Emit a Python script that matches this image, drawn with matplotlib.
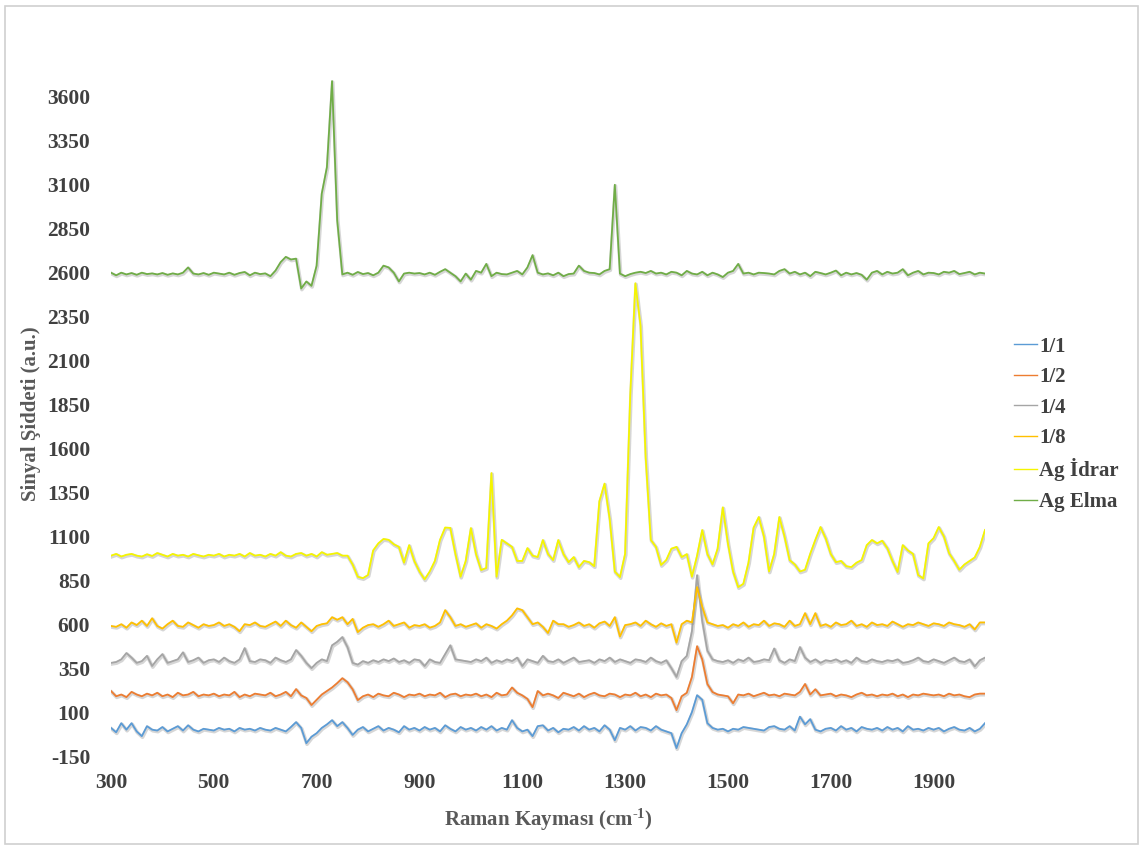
import matplotlib
matplotlib.use("Agg")
import matplotlib.pyplot as plt
import matplotlib.patheffects as pe
from matplotlib.patches import Rectangle
from matplotlib.lines import Line2D
import numpy as np

plt.rcParams['font.family'] = ['Liberation Serif', 'DejaVu Serif']
plt.rcParams['font.weight'] = 'bold'
plt.rcParams['axes.labelweight'] = 'bold'
plt.rcParams['axes.unicode_minus'] = False
plt.rcParams['mathtext.fontset'] = 'custom'
plt.rcParams['mathtext.rm'] = 'Liberation Serif:bold'
plt.rcParams['mathtext.bf'] = 'Liberation Serif:bold'
plt.rcParams['mathtext.default'] = 'bf'

# Raman shift grid, 300..2000 cm-1 every 10
shift = np.arange(300, 2001, 10)

s_1_1 = [10, -15, 37, 0, 37, -10, -37, 20, 0, -5,
         15, -10, 5, 20, -5, 25, 0, -10, 5, 0,
         -5, 10, 0, 5, -10, 10, 0, 5, -5, 10,
         0, -5, 10, 0, -10, 15, 43, 10, -77, -40,
         -20, 10, 30, 54, 20, 43, 10, -30, 0, 15,
         -10, 5, 20, -5, 10, 0, -15, 20, 0, 10,
         -5, 15, 0, 10, -10, 25, 5, -10, 15, 0,
         10, -5, 15, 0, 20, -5, 10, 0, 54, 10,
         -10, 0, -37, 20, 25, -5, 10, -15, 5, 0,
         15, -5, 20, 0, 10, -10, 25, 0, -60, 10,
         0, 20, -5, 15, 10, -5, 20, 0, -10, -20,
         -105, -20, 30, 100, 196, 170, 37, 10, 0, 5,
         -10, 5, 0, 15, 10, 5, 0, -5, 15, 20,
         5, 0, 20, -5, 74, 30, 60, 0, -10, 5,
         10, -5, 20, 0, 10, -10, 15, 5, 0, 10,
         -5, 15, 0, 10, -10, 20, 0, 5, -5, 10,
         0, 10, -10, 5, 15, 0, -5, 10, -10, 5,
         37]

s_1_2 = [220, 190, 200, 185, 215, 200, 190, 205, 195, 210,
         190, 200, 185, 210, 195, 200, 215, 190, 200, 195,
         205, 190, 200, 195, 215, 185, 200, 190, 205, 200,
         195, 210, 190, 200, 215, 190, 231, 195, 180, 140,
         170, 200, 220, 240, 265, 293, 270, 230, 168, 190,
         200, 185, 205, 195, 190, 210, 200, 185, 200, 195,
         205, 190, 200, 195, 210, 185, 200, 205, 190, 200,
         195, 205, 190, 200, 185, 210, 195, 200, 240, 210,
         195, 175, 128, 220, 195, 205, 195, 180, 210, 200,
         190, 205, 185, 200, 210, 195, 190, 205, 200, 185,
         200, 195, 210, 190, 200, 185, 205, 195, 200, 180,
         111, 190, 210, 300, 475, 400, 260, 214, 200, 195,
         190, 150, 200, 195, 205, 190, 200, 210, 195, 200,
         190, 205, 200, 195, 215, 260, 200, 230, 195, 200,
         205, 190, 200, 195, 185, 200, 210, 195, 200, 190,
         200, 195, 205, 190, 200, 185, 200, 195, 205, 200,
         195, 200, 190, 205, 195, 200, 190, 185, 200, 205,
         205]

s_1_4 = [380, 385, 400, 436, 410, 380, 390, 420, 362, 400,
         430, 380, 390, 400, 440, 385, 395, 410, 380, 395,
         400, 385, 410, 390, 380, 400, 464, 390, 385, 400,
         395, 380, 410, 395, 385, 400, 453, 420, 380, 350,
         380, 400, 390, 480, 500, 527, 470, 380, 370, 390,
         380, 395, 385, 400, 390, 405, 385, 395, 380, 400,
         395, 362, 400, 385, 380, 430, 480, 400, 395, 390,
         385, 400, 390, 410, 380, 395, 385, 400, 390, 410,
         362, 400, 390, 380, 420, 390, 385, 400, 380, 395,
         410, 385, 390, 395, 380, 400, 390, 410, 385, 400,
         390, 380, 400, 395, 385, 410, 390, 380, 395, 350,
         300, 390, 420, 560, 879, 620, 450, 400, 390, 385,
         395, 380, 400, 390, 410, 385, 390, 400, 395, 462,
         395, 380, 400, 390, 470, 410, 385, 400, 380, 395,
         390, 400, 385, 395, 380, 410, 390, 385, 400, 390,
         385, 395, 390, 400, 380, 385, 395, 410, 390, 385,
         400, 390, 380, 395, 410, 390, 385, 400, 360, 395,
         410]

s_1_8 = [590, 585, 600, 580, 610, 595, 620, 590, 634, 590,
         575, 600, 620, 590, 585, 610, 595, 580, 600, 590,
         595, 610, 590, 600, 585, 560, 600, 595, 610, 590,
         585, 600, 615, 590, 620, 595, 580, 610, 585, 560,
         590, 600, 605, 640, 625, 640, 600, 630, 555, 580,
         595, 600, 585, 600, 620, 590, 600, 610, 580, 595,
         590, 600, 580, 590, 610, 680, 640, 590, 600, 585,
         595, 605, 580, 600, 590, 575, 600, 620, 650, 690,
         680, 640, 600, 610, 585, 550, 620, 600, 600, 585,
         595, 610, 590, 600, 580, 605, 615, 590, 640, 530,
         595, 600, 610, 590, 620, 600, 585, 605, 590, 600,
         495, 600, 620, 610, 811, 700, 610, 600, 590, 595,
         580, 600, 590, 610, 585, 600, 595, 620, 590, 605,
         600, 585, 620, 590, 600, 663, 600, 663, 590, 600,
         585, 610, 595, 600, 620, 590, 600, 585, 610, 595,
         600, 590, 615, 600, 585, 600, 595, 610, 600, 590,
         605, 600, 590, 610, 600, 595, 585, 600, 570, 610,
         610]

ag_idrar = [990, 1000, 985, 995, 1000, 990, 985, 998, 988, 1005,
            995, 985, 1000, 990, 995, 985, 1000, 992, 985, 995,
            990, 1000, 985, 995, 990, 1000, 985, 1005, 990, 995,
            985, 1000, 990, 1010, 990, 985, 1000, 1005, 990, 1000,
            985, 1010, 995, 1000, 1005, 990, 990, 940, 870, 862,
            880, 1020, 1060, 1085, 1080, 1055, 1040, 950, 1050, 960,
            900, 855, 900, 960, 1080, 1150, 1148, 1000, 870, 960,
            1147, 1000, 908, 920, 1460, 870, 1080, 1060, 1040, 960,
            960, 1033, 990, 982, 1079, 1000, 965, 1079, 1000, 953,
            982, 925, 960, 953, 930, 1300, 1400, 1200, 900, 868,
            1000, 1900, 2540, 2300, 1550, 1080, 1040, 937, 965, 1030,
            1040, 982, 999, 870, 990, 1136, 1000, 940, 1030, 1265,
            1060, 900, 811, 830, 950, 1150, 1210, 1100, 900, 1000,
            1210, 1100, 965, 940, 900, 910, 1000, 1080, 1153, 1090,
            1000, 953, 960, 930, 925, 950, 965, 1050, 1079, 1060,
            1075, 1033, 960, 897, 1050, 1020, 1000, 880, 860, 1060,
            1090, 1153, 1100, 1005, 960, 910, 940, 960, 980, 1040,
            1136]

ag_elma = [2600, 2585, 2600, 2590, 2598, 2588, 2600, 2592, 2596, 2590,
           2598, 2588, 2596, 2590, 2600, 2630, 2595, 2590, 2598, 2588,
           2600, 2595, 2590, 2600, 2588, 2598, 2604, 2585, 2600, 2592,
           2596, 2580, 2612, 2660, 2690, 2675, 2680, 2510, 2550, 2525,
           2640, 3050, 3200, 3690, 2900, 2590, 2600, 2588, 2604, 2592,
           2598, 2585, 2600, 2640, 2630, 2600, 2550, 2595, 2600, 2595,
           2598, 2590, 2600, 2588, 2605, 2620, 2600, 2580, 2550, 2595,
           2560, 2610, 2600, 2650, 2580, 2600, 2592, 2590, 2600, 2610,
           2590, 2630, 2700, 2600, 2590, 2596, 2585, 2600, 2580, 2592,
           2595, 2640, 2610, 2600, 2598, 2590, 2610, 2620, 3100, 2595,
           2580, 2592, 2600, 2605, 2598, 2610, 2595, 2600, 2590, 2605,
           2600, 2585, 2610, 2595, 2590, 2605, 2585, 2600, 2590, 2575,
           2600, 2610, 2650, 2595, 2600, 2590, 2600, 2598, 2595, 2590,
           2610, 2620, 2595, 2605, 2590, 2600, 2580, 2605, 2598, 2590,
           2600, 2612, 2585, 2600, 2590, 2598, 2588, 2560, 2600, 2610,
           2590, 2605, 2595, 2600, 2620, 2585, 2600, 2610, 2590, 2600,
           2598, 2590, 2605, 2600, 2610, 2592, 2598, 2605, 2590, 2600,
           2595]

series = [('1/1', s_1_1, '#5B9BD5'),
          ('1/2', s_1_2, '#ED7D31'),
          ('1/4', s_1_4, '#A5A5A5'),
          ('1/8', s_1_8, '#FFC000'),
          ('Ag İdrar', ag_idrar, '#F5F500'),
          ('Ag Elma', ag_elma, '#70AD47')]

fig = plt.figure(figsize=(11.44, 8.47), dpi=100)
ax = fig.add_axes([0.097, 0.1074, 0.764, 0.8093])

handles = []
for name, vals, col in series:
    ax.plot(shift, vals, color=col, lw=1.3,
            path_effects=[pe.SimpleLineShadow(offset=(0.5, -0.8), shadow_color='0.55', alpha=0.35, linewidth=2.6),
                          pe.Normal()])
    handles.append(Line2D([], [], color=col, lw=1.0, label=name))

ax.set_xlim(300, 2000)
ax.set_ylim(-150, 3750)
ax.set_xticks(np.arange(300, 2000, 200))
ax.set_yticks(np.arange(-150, 3601, 250))
ax.tick_params(length=0, labelsize=15.5, labelcolor='#404040')
ax.tick_params(axis='y', pad=15)
ax.tick_params(axis='x', pad=12)
for sp in ax.spines.values():
    sp.set_visible(False)

ax.set_xlabel(r'Raman Kayması (cm$^{\text{-1}}$)', fontsize=15, color='#595959', labelpad=10)
ax.set_ylabel('Sinyal Şiddeti (a.u.)', fontsize=15, color='#595959', labelpad=4)

ax.legend(handles=handles, loc='center left', bbox_to_anchor=(1.012, 0.484), frameon=False,
          fontsize=15, handlelength=1.1, handletextpad=0.1,
          labelspacing=0.5, labelcolor='#404040')

fig.add_artist(Rectangle((0.004, 0.003), 0.991, 0.99, transform=fig.transFigure,
                         fill=False, edgecolor='#D0D0D0', lw=1.2))

fig.savefig('out.png', dpi=100)
